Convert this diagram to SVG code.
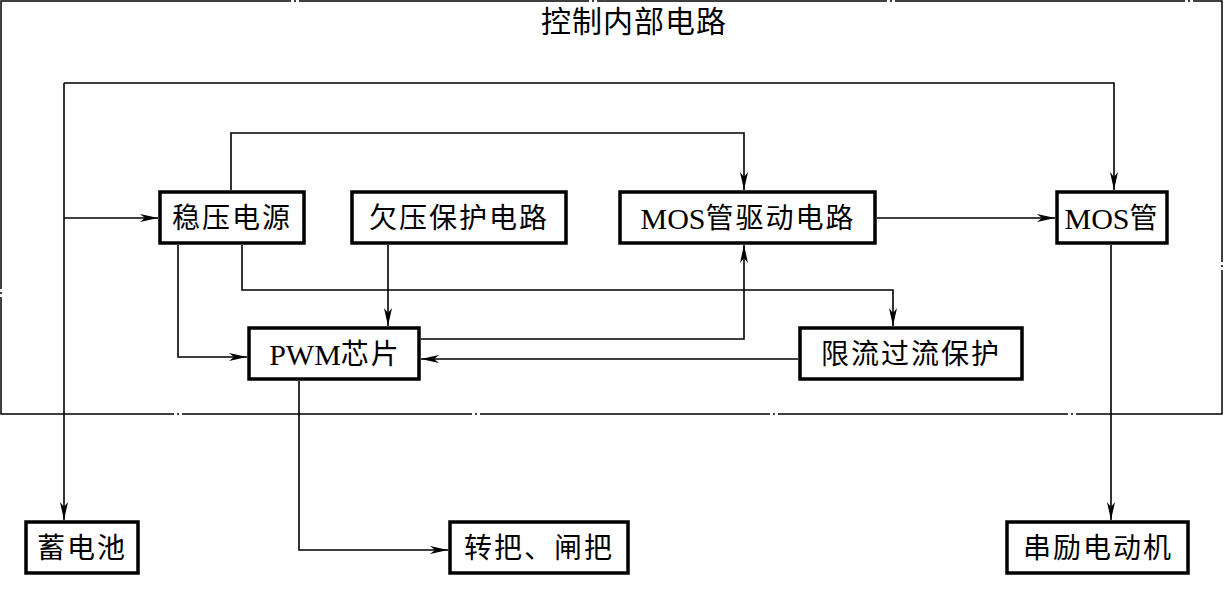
<svg xmlns="http://www.w3.org/2000/svg" width="1224" height="596" viewBox="0 0 1224 596">
<style>
.frame{fill:none;stroke:#000;stroke-width:1.5;stroke-dasharray:290 3 2 3}
.box{fill:#fff;stroke:#000;stroke-width:3.5}
.lbl{font-family:"Liberation Serif","Noto Sans CJK SC",serif;font-size:28px;fill:#000;text-anchor:middle;dominant-baseline:central;letter-spacing:2px}
.lat{letter-spacing:0px;font-size:30px}
.title{font-family:"Liberation Serif","Noto Sans CJK SC",serif;font-size:30px;fill:#000;text-anchor:middle;dominant-baseline:central;letter-spacing:1px}
.wire{fill:none;stroke:#000;stroke-width:1.6}
</style>
<defs>
<marker id="arr" viewBox="0 0 18 8" refX="18" refY="4" markerWidth="18" markerHeight="8" markerUnits="userSpaceOnUse" orient="auto">
<path d="M0,0 L18,4 L0,8 L5,4 Z" fill="#000"/>
</marker>
</defs>
<rect width="1224" height="596" fill="#fff"/>
<g id="frame">
<rect class="frame" x="1" y="1" width="1221" height="413"/>
<text class="title" x="634" y="21">控制内部电路</text>
</g>
<g id="connectors">
<path class="wire" d="M64,83 H1114 V190" marker-end="url(#arr)"/>
<path class="wire" d="M64,83 V520" marker-end="url(#arr)"/>
<path class="wire" d="M64,218 H158" marker-end="url(#arr)"/>
<path class="wire" d="M231,190 V133 H744 V190" marker-end="url(#arr)"/>
<path class="wire" d="M178,245 V357 H247" marker-end="url(#arr)"/>
<path class="wire" d="M242,245 V290 H893 V326" marker-end="url(#arr)"/>
<path class="wire" d="M388,245 V326" marker-end="url(#arr)"/>
<path class="wire" d="M421,339 H744 V245" marker-end="url(#arr)"/>
<path class="wire" d="M798,359 H421" marker-end="url(#arr)"/>
<path class="wire" d="M877,218 H1055" marker-end="url(#arr)"/>
<path class="wire" d="M1111,245 V520" marker-end="url(#arr)"/>
<path class="wire" d="M299,381 V550 H448" marker-end="url(#arr)"/>
</g>
<g id="wenya"><rect class="box" x="160" y="192" width="144" height="51"/><text class="lbl" x="232" y="218">稳压电源</text></g>
<g id="qianya"><rect class="box" x="352" y="192" width="214" height="51"/><text class="lbl" x="459" y="218">欠压保护电路</text></g>
<g id="mosdrive"><rect class="box" x="620" y="192" width="255" height="51"/><text class="lbl" x="748" y="218"><tspan class="lat">MOS</tspan>管驱动电路</text></g>
<g id="mos"><rect class="box" x="1057" y="192" width="110" height="51"/><text class="lbl" x="1112" y="218"><tspan class="lat">MOS</tspan>管</text></g>
<g id="pwm"><rect class="box" x="249" y="328" width="170" height="51"/><text class="lbl" x="335" y="354"><tspan class="lat">PWM</tspan>芯片</text></g>
<g id="xianliu"><rect class="box" x="800" y="328" width="222" height="51"/><text class="lbl" x="911" y="354">限流过流保护</text></g>
<g id="battery"><rect class="box" x="26" y="522" width="112" height="51"/><text class="lbl" x="82" y="548">蓄电池</text></g>
<g id="handle"><rect class="box" x="450" y="522" width="178" height="51"/><text class="lbl" x="539" y="548">转把、闸把</text></g>
<g id="motor"><rect class="box" x="1007" y="522" width="181" height="51"/><text class="lbl" x="1098" y="548">串励电动机</text></g>
</svg>
